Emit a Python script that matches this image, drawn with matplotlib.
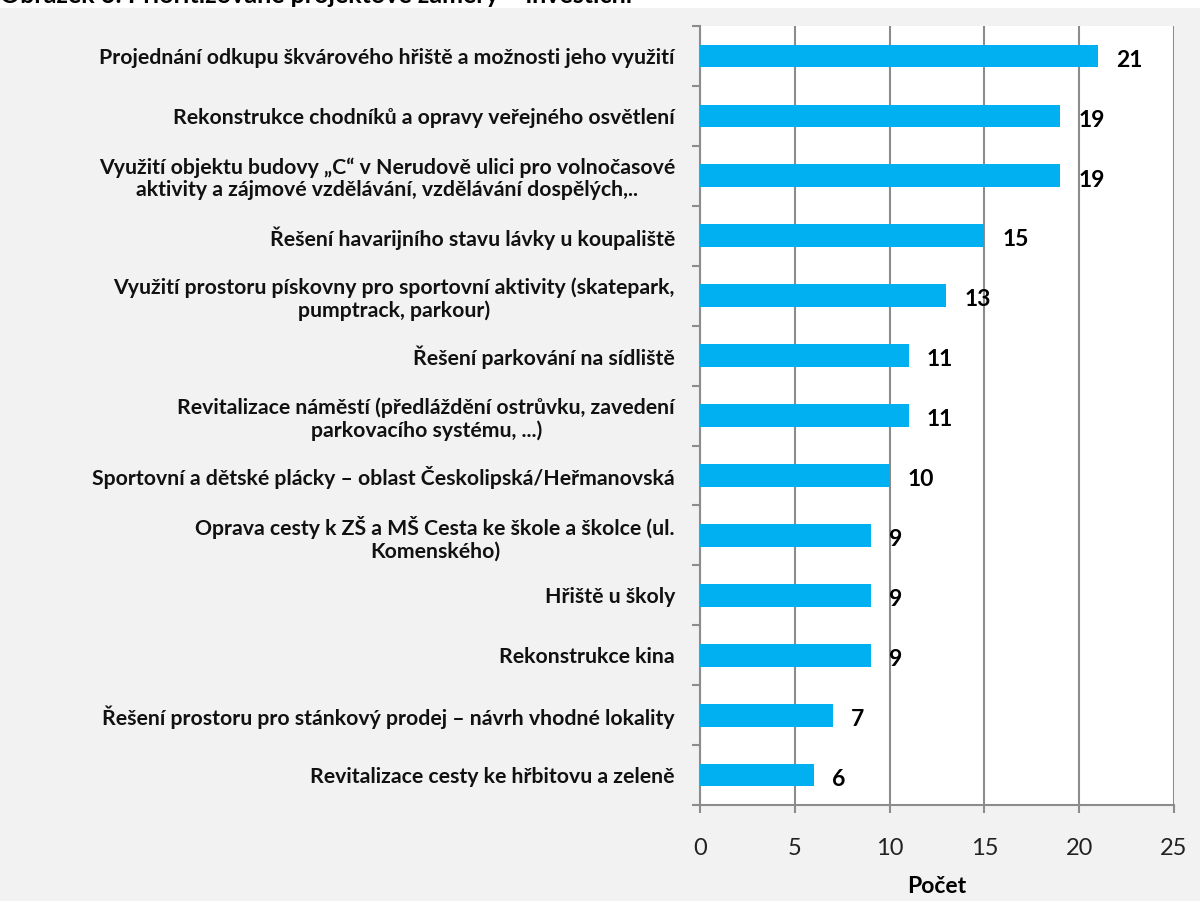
import matplotlib
matplotlib.use('Agg')
import matplotlib.pyplot as plt
import numpy as np

# data
categories = [
    "Projednání odkupu škvárového hřiště a možnosti jeho využití",
    "Rekonstrukce chodníků a opravy veřejného osvětlení",
    "Využití objektu budovy „C“ v Nerudově ulici pro volnočasové\naktivity a zájmové vzdělávání, vzdělávání dospělých,..",
    "Řešení havarijního stavu lávky u koupaliště",
    "Využití prostoru pískovny pro sportovní aktivity (skatepark,\npumptrack, parkour)",
    "Řešení parkování na sídliště",
    "Revitalizace náměstí (předláždění ostrůvku, zavedení\nparkovacího systému, ...)",
    "Sportovní a dětské plácky – oblast Českolipská/Heřmanovská",
    "Oprava cesty k ZŠ a MŠ Cesta ke škole a školce (ul.\nKomenského)",
    "Hřiště u školy",
    "Rekonstrukce kina",
    "Řešení prostoru pro stánkový prodej – návrh vhodné lokality",
    "Revitalizace cesty ke hřbitovu a zeleně",
]
counts = [21, 19, 19, 15, 13, 11, 11, 10, 9, 9, 9, 7, 6]
x_ticks = [0, 5, 10, 15, 20, 25]
title = "Obrázek 6: Prioritizované projektové záměry – investiční"

FONT = ['Lato', 'DejaVu Sans']
BAR = '#00B0F0'
GRID = '#8c8c8c'

fig = plt.figure(figsize=(12, 9.01), dpi=100)
fig.patch.set_facecolor('#f2f2f2')
# white strip at the very top holding the cut-off caption
fig.patches.append(plt.Rectangle((0, 0.991), 1, 0.009, transform=fig.transFigure,
                                 facecolor='white', edgecolor='none', zorder=0))
fig.text(0.0, 1.005, title, ha='left', va='center', fontsize=18, fontweight='bold',
         family=FONT, color='black')

ax = fig.add_axes([0.5833, 0.1065, 0.395, 0.8646])
ax.set_facecolor('white')

y = np.arange(len(categories))
ax.barh(y, counts, height=0.38, color=BAR, edgecolor='none', zorder=3)

for yi, v in zip(y, counts):
    ax.text(v + 0.95, yi + 0.07, str(v), ha='left', va='center', fontsize=16.5,
            fontweight='bold', family=FONT, color='black', zorder=4)

ax.set_ylim(len(categories) - 0.5, -0.5)
ax.set_xlim(0, 25)
ax.set_xticks(x_ticks)
ax.set_xticklabels([str(t) for t in x_ticks], fontsize=17, family=FONT, color='#222222')
ax.xaxis.grid(True, color=GRID, linewidth=1.5, zorder=0)

ax.set_yticks(y)
ax.set_yticklabels(categories, fontsize=15.3, family=FONT, fontweight='bold', color='#111111')
for lab in ax.get_yticklabels():
    lab.set_multialignment('center')
    lab.set_linespacing(1.15)
ax.set_yticks(np.arange(-0.5, len(categories)), minor=True)
ax.tick_params(axis='y', which='major', length=0, pad=18)
ax.tick_params(axis='y', which='minor', length=6, color=GRID, width=1.5, direction='out')
ax.tick_params(axis='x', length=6, color=GRID, width=1.5, pad=18)

for side in ['top', 'right']:
    ax.spines[side].set_visible(False)
for side in ['left', 'bottom']:
    ax.spines[side].set_color(GRID)
    ax.spines[side].set_linewidth(1.5)

ax.set_xlabel('Počet', fontsize=16.5, fontweight='bold', family=FONT, labelpad=12)

fig.savefig('out.png', dpi=100, facecolor=fig.get_facecolor())
